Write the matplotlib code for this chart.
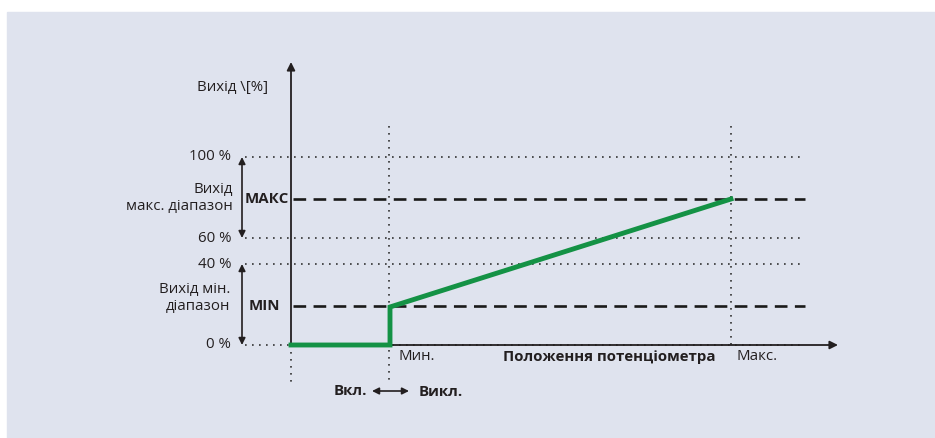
import matplotlib.pyplot as plt
from matplotlib.patches import Rectangle

plt.rcParams['font.family'] = ['Open Sans', 'DejaVu Sans']

# schematic levels (vertical positions in the drawing)
level_labels = ['0 %', '40 %', '60 %', '100 %']
level_pos = [345, 264, 238, 157]
min_pos = 306
max_pos = 199

# potentiometer positions
x_zero = 291
x_min = 389
x_max = 731

# output curve
curve_x = [291, 390, 390, 731]
curve_y = [345, 345, 307, 199]

fig = plt.figure(figsize=(9.35, 4.38), dpi=100)
ax = fig.add_axes([0, 0, 1, 1])
ax.set_xlim(0, 935)
ax.set_ylim(438, 0)
ax.axis('off')

ax.add_patch(Rectangle((7, 12), 940, 440, color='#dfe3ee', zorder=0))

ink = '#231f20'
dot = dict(color='#333333', lw=1.2, ls=(0, (1, 3.2)), zorder=2)

# horizontal dotted guides
for y in level_pos:
    ax.plot([245, 803], [y, y], **dot)
# vertical dotted guides
ax.plot([x_zero, x_zero], [345, 382], **dot)
ax.plot([x_min, x_min], [126, 382], **dot)
ax.plot([x_max, x_max], [126, 345], **dot)

# dashed MIN / MAX lines
dash = dict(color='#1a1a1a', lw=1.9, ls=(0, (4.8, 2.8)), zorder=3)
ax.plot([293, 805], [max_pos, max_pos], **dash)
ax.plot([293, 805], [min_pos, min_pos], **dash)

# axes with arrows
arr = dict(arrowstyle='-|>', color=ink, lw=1.3, mutation_scale=12, shrinkA=0, shrinkB=0)
ax.annotate('', xy=(x_zero, 62), xytext=(x_zero, 345), arrowprops=arr, zorder=4)
ax.annotate('', xy=(838, 345), xytext=(x_zero, 345), arrowprops=arr, zorder=4)

# range arrows at left
darr = dict(arrowstyle='<|-|>', color=ink, lw=1.2, mutation_scale=10, shrinkA=0, shrinkB=0)
ax.annotate('', xy=(242, level_pos[3]), xytext=(242, level_pos[2]), arrowprops=darr)
ax.annotate('', xy=(242, level_pos[1]), xytext=(242, level_pos[0]), arrowprops=darr)
ax.annotate('', xy=(372, 391), xytext=(409, 391), arrowprops=darr)

# output curve
ax.plot(curve_x, curve_y, color='#149245', lw=3.5, solid_joinstyle='miter', zorder=5)

fs = 10.8
for lab, y in zip(level_labels, level_pos):
    ax.text(231, y, lab, ha='right', va='center', fontsize=fs, color=ink)

ax.text(233, 198, 'Вихід\nмакс. діапазон', ha='right', va='center', fontsize=fs,
        color=ink, multialignment='right', linespacing=1.2)
ax.text(230, 298, 'Вихід мін.\nдіапазон', ha='right', va='center', fontsize=fs,
        color=ink, multialignment='right', linespacing=1.2)
ax.text(268, 88, 'Вихід \\[%]', ha='right', va='center', fontsize=fs, color=ink)
ax.text(245, 199, 'МАКС', ha='left', va='center', fontsize=fs, fontweight='bold', color=ink)
ax.text(249, 306, 'MIN', ha='left', va='center', fontsize=fs, fontweight='bold', color=ink)

ax.text(399, 356, 'Мин.', ha='left', va='center', fontsize=fs, color=ink)
ax.text(503, 357, 'Положення потенціометра', ha='left', va='center', fontsize=fs,
        fontweight='bold', color=ink)
ax.text(736, 357, 'Макс.', ha='left', va='center', fontsize=fs, color=ink)
ax.text(367, 391, 'Вкл.', ha='right', va='center', fontsize=fs, fontweight='bold', color=ink)
ax.text(419, 392, 'Викл.', ha='left', va='center', fontsize=fs, fontweight='bold', color=ink)

fig.savefig('out.png', dpi=100, facecolor='white')
